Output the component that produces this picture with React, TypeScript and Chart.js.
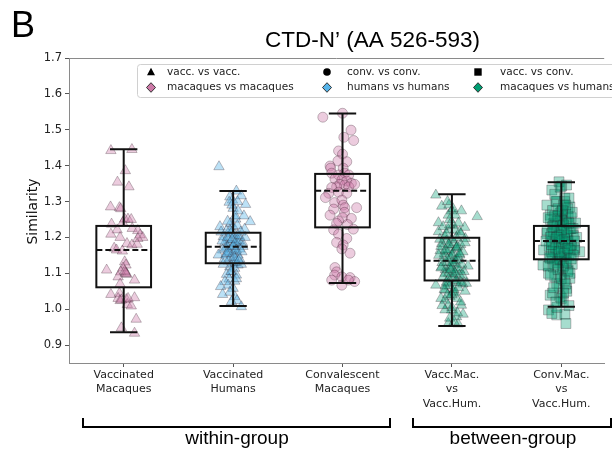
import React, { useEffect, useRef } from 'react';
import { Chart, registerables } from 'chart.js';
Chart.register(...registerables);

// ---------- data ----------
const categories: string[][] = [
  ['Vaccinated', 'Macaques'],
  ['Vaccinated', 'Humans'],
  ['Convalescent', 'Macaques'],
  ['Vacc.Mac.', 'vs', 'Vacc.Hum.'],
  ['Conv.Mac.', 'vs', 'Vacc.Hum.'],
];
const yTickValues = [0.9, 1.0, 1.1, 1.2, 1.3, 1.4, 1.5, 1.6, 1.7];

const whiskerHigh = [1.446, 1.329, 1.545, 1.320, 1.354];
const boxQ3 = [1.232, 1.213, 1.377, 1.199, 1.232];
const boxMid = [1.165, 1.174, 1.330, 1.135, 1.190];
const boxQ1 = [1.061, 1.128, 1.228, 1.080, 1.139];
const whiskerLow = [0.936, 1.009, 1.073, 0.953, 1.007];

// [x jitter, similarity]
const vaccMacaques: number[][] = [
  [-0.117, 1.442], [0.075, 1.445], [0.015, 1.386], [-0.057, 1.354], [0.048, 1.341], [-0.12, 1.285], [-0.039, 1.283],
  [-0.027, 1.28], [0.009, 1.251], [0.039, 1.251], [0.069, 1.25], [-0.111, 1.237], [-0.009, 1.241], [0.078, 1.225],
  [-0.06, 1.221], [0.129, 1.219], [-0.117, 1.209], [0.15, 1.207], [-0.033, 1.2], [0.174, 1.2], [0.129, 1.197],
  [0.03, 1.183], [0.075, 1.179], [0.123, 1.181], [-0.087, 1.17], [-0.066, 1.165], [-0.012, 1.162], [0.009, 1.132],
  [0.021, 1.123], [-0.006, 1.115], [-0.156, 1.109], [-0.027, 1.104], [0.015, 1.101], [0.03, 1.097], [-0.051, 1.09],
  [0.099, 1.081], [-0.033, 1.07], [-0.117, 1.041], [-0.039, 1.044], [-0.051, 1.03], [-0.033, 1.024], [0.024, 1.027],
  [0.099, 1.032], [0.033, 1.013], [0.069, 1.009], [0.114, 0.972], [-0.021, 0.948], [0.099, 0.933], [0.02, 1.099],
  [0.01, 1.106], [-0.02, 1.026], [0.04, 1.03],
];
const vaccHumans: number[][] = [
  [-0.129, 1.397], [0.03, 1.329], [0.075, 1.316], [-0.03, 1.313], [-0.006, 1.304], [-0.036, 1.298], [0.114, 1.292],
  [0, 1.281], [0.045, 1.274], [0.099, 1.26], [0.024, 1.251], [0.156, 1.244], [-0.024, 1.239], [-0.12, 1.23],
  [0, 1.23], [0.039, 1.233], [0.105, 1.223], [-0.06, 1.218], [-0.015, 1.214], [0.015, 1.207], [-0.09, 1.202],
  [0.06, 1.202], [-0.045, 1.195], [-0.006, 1.193], [0.03, 1.19], [-0.075, 1.186], [-0.03, 1.183], [0.045, 1.181],
  [0.084, 1.186], [0.006, 1.177], [-0.054, 1.174], [-0.015, 1.17], [0.06, 1.168], [-0.096, 1.165], [0.024, 1.162],
  [-0.036, 1.158], [0, 1.155], [-0.135, 1.151], [-0.066, 1.151], [0.045, 1.151], [-0.024, 1.144], [0.015, 1.14],
  [-0.045, 1.134], [0, 1.128], [0.045, 1.123], [-0.03, 1.118], [0.015, 1.114], [0.075, 1.125], [-0.015, 1.104],
  [-0.06, 1.097], [0.03, 1.095], [-0.036, 1.084], [-0.075, 1.077], [0.015, 1.078], [-0.045, 1.067], [-0.114, 1.063],
  [0, 1.058], [-0.03, 1.047], [-0.096, 1.041], [0.015, 1.035], [0.036, 1.024], [0.075, 1.007], [-0.015, 1.021],
  [-0.02, 1.21], [0.05, 1.19], [-0.07, 1.17], [0.02, 1.185], [0.09, 1.175], [-0.04, 1.16], [0.03, 1.165],
  [-0.1, 1.19], [0.11, 1.2], [-0.05, 1.2], [0.0, 1.175], [0.06, 1.14], [-0.08, 1.14], [0.02, 1.13], [-0.03, 1.22],
  [0.07, 1.215], [-0.11, 1.215], [0.04, 1.205], [-0.01, 1.195], [0.08, 1.16], [-0.06, 1.155], [0.01, 1.145],
  [-0.09, 1.125], [0.05, 1.135], [-0.02, 1.105], [0.03, 1.085], [-0.05, 1.245], [0.02, 1.26], [-0.01, 1.29], [0.04, 1.3],
];
const convMacaques: number[][] = [
  [0, 1.546], [-0.18, 1.535], [0.078, 1.499], [0.012, 1.479], [0.102, 1.47], [-0.036, 1.441], [0, 1.432],
  [-0.042, 1.413], [0.039, 1.411], [-0.114, 1.399], [-0.108, 1.393], [0.006, 1.393], [-0.099, 1.379], [-0.036, 1.374],
  [0.021, 1.379], [0.057, 1.374], [-0.069, 1.363], [-0.006, 1.36], [0.039, 1.357], [-0.024, 1.348], [0.081, 1.351],
  [0.018, 1.346], [0.057, 1.341], [-0.054, 1.341], [-0.099, 1.339], [0.111, 1.348], [-0.126, 1.323], [-0.036, 1.326],
  [0.039, 1.323], [-0.156, 1.311], [-0.072, 1.297], [-0.006, 1.304], [0.006, 1.29], [0.021, 1.283], [0.129, 1.283],
  [-0.081, 1.279], [0.018, 1.27], [-0.114, 1.262], [0, 1.255], [0.081, 1.253], [-0.036, 1.246], [-0.054, 1.239],
  [0.045, 1.236], [-0.081, 1.221], [0.099, 1.223], [-0.036, 1.209], [0.039, 1.197], [-0.054, 1.186], [0.006, 1.179],
  [-0.006, 1.168], [0.069, 1.156], [-0.069, 1.116], [-0.054, 1.104], [-0.072, 1.095], [-0.006, 1.09], [-0.099, 1.081],
  [0.069, 1.088], [0.111, 1.077], [-0.006, 1.067], [0.054, 1.081],
];
const vmVsVh: number[][] = [
  [-0.147, 1.318], [-0.093, 1.287], [-0.027, 1.29], [-0.003, 1.274], [0.087, 1.274], [0.231, 1.258], [-0.033, 1.262],
  [0.033, 1.262], [-0.123, 1.241], [0.012, 1.234], [0.117, 1.228], [-0.123, 1.216], [-0.033, 1.221], [0.072, 1.216],
  [-0.063, 1.202], [0.123, 1.197], [-0.093, 1.183], [-0.018, 1.179], [0.042, 1.172], [-0.108, 1.163], [-0.039, 1.16],
  [0.012, 1.156], [0.072, 1.151], [-0.078, 1.144], [-0.009, 1.142], [0.051, 1.137], [-0.048, 1.129], [0.021, 1.126],
  [0.147, 1.12], [-0.093, 1.118], [-0.018, 1.114], [0.072, 1.109], [-0.063, 1.1], [0.012, 1.095], [0.102, 1.092],
  [-0.147, 1.067], [-0.033, 1.072], [0.042, 1.074], [0.132, 1.072], [-0.063, 1.053], [0.012, 1.049], [-0.018, 1.035],
  [-0.063, 1.025], [0.042, 1.03], [-0.033, 1.011], [0.087, 1.011], [-0.003, 0.998], [-0.063, 0.998], [0.102, 0.986],
  [0.042, 0.979], [-0.033, 0.96], [0.057, 0.959],
  [-0.05, 1.19], [0.02, 1.185], [0.08, 1.18], [-0.1, 1.175], [0.04, 1.17], [-0.02, 1.165], [0.1, 1.16], [-0.07, 1.155],
  [0.0, 1.15], [0.06, 1.145], [-0.04, 1.14], [0.03, 1.135], [-0.09, 1.13], [0.09, 1.125], [-0.01, 1.12], [0.05, 1.115],
  [-0.06, 1.11], [0.02, 1.105], [-0.03, 1.1], [0.07, 1.095], [-0.08, 1.09], [0.01, 1.085], [0.04, 1.08], [-0.05, 1.075],
  [0.1, 1.07], [-0.02, 1.065], [0.06, 1.06], [-0.07, 1.055], [0.03, 1.045], [-0.04, 1.04], [0.08, 1.02], [-0.09, 1.01],
  [0.0, 1.005], [0.05, 0.99], [-0.02, 0.975], [0.02, 0.965], [-0.05, 1.21], [0.03, 1.22], [-0.08, 1.23], [0.06, 1.24],
  [-0.02, 1.25], [0.01, 1.28], [-0.04, 1.3], [0.0, 1.195], [-0.11, 1.195], [0.12, 1.185], [-0.03, 1.18], [0.05, 1.175],
  [-0.06, 1.165], [0.07, 1.155], [0.0, 1.13], [-0.1, 1.115], [0.11, 1.105], [0.03, 1.1], [-0.03, 1.085], [0.08, 1.075],
  [-0.06, 1.065], [0.02, 1.055], [0.0, 1.04], [-0.1, 1.03], [0.12, 1.05], [0.04, 1.2], [-0.02, 1.235], [0.08, 1.21],
  [-0.12, 1.15], [-0.01, 1.11],
];
const cmVsVh: number[][] = [
  [-0.021, 1.355], [0.048, 1.346], [0.003, 1.343], [-0.087, 1.332], [0.033, 1.309], [-0.132, 1.29], [-0.042, 1.3],
  [0.078, 1.285], [-0.102, 1.262], [-0.012, 1.267], [0.063, 1.258], [-0.072, 1.239], [0.018, 1.234], [0.108, 1.225],
  [-0.132, 1.211], [-0.027, 1.207], [0.048, 1.202], [-0.087, 1.188], [0.003, 1.183], [0.093, 1.179], [0.168, 1.16],
  [-0.162, 1.165], [-0.057, 1.16], [0.033, 1.156], [0.123, 1.165], [-0.102, 1.142], [-0.012, 1.137], [-0.168, 1.123],
  [-0.072, 1.118], [0.063, 1.109], [-0.117, 1.1], [-0.012, 1.095], [0.078, 1.086], [-0.042, 1.072], [0.048, 1.058],
  [-0.102, 1.039], [-0.012, 1.035], [0.018, 1.021], [-0.117, 0.998], [-0.042, 0.984], [0.033, 0.986], [0.042, 0.96],
  [-0.087, 0.988],
  [-0.05, 1.3], [0.02, 1.29], [0.06, 1.28], [-0.08, 1.275], [0.0, 1.27], [0.04, 1.265], [-0.03, 1.26], [0.09, 1.255],
  [-0.1, 1.25], [0.01, 1.245], [0.05, 1.24], [-0.06, 1.235], [-0.01, 1.23], [0.08, 1.225], [-0.04, 1.22], [0.03, 1.215],
  [-0.09, 1.21], [0.11, 1.205], [0.0, 1.2], [-0.05, 1.195], [0.06, 1.19], [-0.02, 1.185], [0.09, 1.18], [-0.11, 1.175],
  [0.02, 1.17], [-0.07, 1.165], [0.05, 1.16], [-0.03, 1.155], [0.07, 1.15], [0.0, 1.145], [-0.08, 1.14], [0.04, 1.135],
  [-0.04, 1.13], [0.1, 1.125], [-0.12, 1.12], [0.01, 1.115], [0.06, 1.105], [-0.06, 1.09], [0.03, 1.08], [-0.02, 1.065],
  [0.05, 1.05], [-0.08, 1.045], [0.0, 1.03], [0.07, 1.01], [-0.04, 1.005],
  [0.13, 1.24], [-0.13, 1.22], [0.12, 1.17], [-0.14, 1.19], [0.14, 1.2], [-0.03, 1.28], [0.03, 1.3], [-0.06, 1.32],
  [0.07, 1.31], [-0.01, 1.34], [0.0, 1.25], [0.02, 1.235], [-0.04, 1.245], [0.06, 1.205], [-0.07, 1.215], [0.01, 1.19],
  [-0.1, 1.2], [0.04, 1.185], [-0.02, 1.175], [0.08, 1.165], [-0.05, 1.17], [0.03, 1.155], [-0.09, 1.16], [0.11, 1.15],
  [-0.01, 1.14], [0.05, 1.13], [-0.06, 1.125], [0.02, 1.12], [-0.03, 1.11], [0.08, 1.1], [-0.1, 1.095], [0.0, 1.085],
  [0.04, 1.07], [-0.07, 1.06], [0.02, 1.045], [-0.05, 1.02], [0.09, 1.225], [-0.12, 1.255], [0.1, 1.27], [-0.02, 1.205],
  [0.05, 1.215], [-0.08, 1.23], [0.0, 1.22], [0.03, 1.195], [-0.04, 1.2], [0.07, 1.24], [-0.06, 1.26], [0.01, 1.275],
  [0.04, 1.29], [-0.09, 1.18], [0.12, 1.19], [-0.11, 1.145], [0.09, 1.14], [-0.02, 1.16], [0.06, 1.17],
];

const groups = [vaccMacaques, vaccHumans, convMacaques, vmVsVh, cmVsVh];
const pointShapes = ['triangle', 'triangle', 'circle', 'triangle', 'rect'];
const pointSizes = [6, 6, 5, 6, 7];
const pinkFill = 'rgba(204,121,167,0.38)';
const blueFill = 'rgba(86,180,233,0.40)';
const greenFill = 'rgba(0,158,115,0.35)';
const groupFills = [pinkFill, blueFill, pinkFill, greenFill, greenFill];

const legendRow1 = ['vacc. vs vacc.', 'conv. vs conv.', 'vacc. vs conv.'];
const legendRow2 = ['macaques vs macaques', 'humans vs humans', 'macaques vs humans'];
const legendDiamondColors = ['#CC79A7', '#56B4E9', '#009E73'];

const BOX_HALF = 0.25;
const CAP_HALF = 0.125;

const decorPlugin = {
  id: 'decor',
  beforeDraw(chart: any) {
    const ctx = chart.ctx;
    ctx.save();
    ctx.fillStyle = '#ffffff';
    ctx.fillRect(0, 0, chart.width, chart.height);
    ctx.restore();
  },
  afterDatasetsDraw(chart: any) {
    const { ctx, chartArea } = chart;
    const x = chart.scales.x;
    const y = chart.scales.y;
    ctx.save();
    ctx.strokeStyle = '#111';
    ctx.lineWidth = 2;
    for (let i = 0; i < categories.length; i++) {
      const cx = x.getPixelForValue(i);
      const l = x.getPixelForValue(i - BOX_HALF);
      const r = x.getPixelForValue(i + BOX_HALF);
      const cl = x.getPixelForValue(i - CAP_HALF);
      const cr = x.getPixelForValue(i + CAP_HALF);
      const q1 = y.getPixelForValue(boxQ1[i]);
      const q3 = y.getPixelForValue(boxQ3[i]);
      const hi = y.getPixelForValue(whiskerHigh[i]);
      const lo = y.getPixelForValue(whiskerLow[i]);
      const md = y.getPixelForValue(boxMid[i]);
      ctx.setLineDash([]);
      ctx.strokeRect(l, q3, r - l, q1 - q3);
      ctx.beginPath();
      ctx.moveTo(cx, q3); ctx.lineTo(cx, hi);
      ctx.moveTo(cx, q1); ctx.lineTo(cx, lo);
      ctx.moveTo(cl, hi); ctx.lineTo(cr, hi);
      ctx.moveTo(cl, lo); ctx.lineTo(cr, lo);
      ctx.stroke();
      ctx.setLineDash([6, 3]);
      ctx.beginPath();
      ctx.moveTo(l, md); ctx.lineTo(r, md);
      ctx.stroke();
    }
    ctx.setLineDash([]);
    // top spine
    ctx.strokeStyle = '#8a8a8a';
    ctx.lineWidth = 1;
    ctx.beginPath();
    ctx.moveTo(chartArea.left, chartArea.top + 0.5);
    ctx.lineTo(chartArea.right, chartArea.top + 0.5);
    ctx.stroke();

    // legend
    ctx.beginPath();
    (ctx as any).roundRect(137.5, 64.5, 560, 33, 3);
    ctx.fillStyle = 'rgba(255,255,255,0.85)';
    ctx.fill();
    ctx.strokeStyle = '#d0d0d0';
    ctx.stroke();
    const markerX = [151, 327, 478];
    const textX = [167, 347, 500];
    const row1 = 72;
    const row2 = 87.5;
    ctx.fillStyle = '#000';
    // triangle
    ctx.beginPath();
    ctx.moveTo(markerX[0], row1 - 4.2);
    ctx.lineTo(markerX[0] + 4, row1 + 3.3);
    ctx.lineTo(markerX[0] - 4, row1 + 3.3);
    ctx.closePath();
    ctx.fill();
    // circle
    ctx.beginPath();
    ctx.arc(markerX[1], row1, 3.8, 0, Math.PI * 2);
    ctx.fill();
    // square
    ctx.fillRect(markerX[2] - 3.7, row1 - 3.7, 7.4, 7.4);
    // diamonds
    for (let k = 0; k < 3; k++) {
      ctx.beginPath();
      ctx.moveTo(markerX[k], row2 - 4.8);
      ctx.lineTo(markerX[k] + 4.5, row2);
      ctx.lineTo(markerX[k], row2 + 4.8);
      ctx.lineTo(markerX[k] - 4.5, row2);
      ctx.closePath();
      ctx.fillStyle = legendDiamondColors[k];
      ctx.fill();
      ctx.strokeStyle = '#222';
      ctx.lineWidth = 0.9;
      ctx.stroke();
    }
    ctx.fillStyle = '#222';
    ctx.font = '10.5px "DejaVu Sans"';
    ctx.textBaseline = 'middle';
    ctx.textAlign = 'left';
    for (let k = 0; k < 3; k++) {
      ctx.fillText(legendRow1[k], textX[k], row1);
      ctx.fillText(legendRow2[k], textX[k], row2);
    }
    ctx.restore();
  },
  afterDraw(chart: any) {
    const { ctx, chartArea } = chart;
    ctx.save();
    // panel letter
    ctx.fillStyle = '#000';
    ctx.font = '36px "Liberation Sans"';
    ctx.textAlign = 'left';
    ctx.textBaseline = 'alphabetic';
    ctx.fillText('B', 11, 37);
    // title
    ctx.font = '22.5px "Liberation Sans"';
    ctx.textAlign = 'center';
    ctx.fillText('CTD-N\u2019 (AA 526-593)', 372.5, 47);
    // y label
    ctx.save();
    ctx.translate(33, (chartArea.top + chartArea.bottom) / 2 + 1);
    ctx.rotate(-Math.PI / 2);
    ctx.font = '14px "DejaVu Sans"';
    ctx.textBaseline = 'middle';
    ctx.fillStyle = '#111';
    ctx.fillText('Similarity', 0, 0);
    ctx.restore();
    // brackets
    ctx.strokeStyle = '#000';
    ctx.lineWidth = 2;
    ctx.beginPath();
    ctx.moveTo(83, 418); ctx.lineTo(83, 427); ctx.lineTo(390, 427); ctx.lineTo(390, 418);
    ctx.moveTo(413, 418); ctx.lineTo(413, 427); ctx.lineTo(611, 427); ctx.lineTo(611, 418);
    ctx.stroke();
    ctx.font = '19px "Liberation Sans"';
    ctx.textAlign = 'center';
    ctx.textBaseline = 'middle';
    ctx.fillText('within-group', 237, 439);
    ctx.fillText('between-group', 513, 439);
    ctx.restore();
  },
};

export default function App() {
  const ref = useRef<HTMLCanvasElement>(null);
  useEffect(() => {
    if (!ref.current) return;
    const datasets = groups.map((g, i) => ({
      label: categories[i].join(' '),
      data: g.map(([dx, v]) => ({ x: i + dx, y: v })),
      pointStyle: pointShapes[i],
      pointRadius: pointSizes[i],
      pointHoverRadius: pointSizes[i],
      backgroundColor: groupFills[i],
      borderColor: 'rgba(40,20,30,0.35)',
      borderWidth: 0.8,
      showLine: false,
    }));
    const chart = new Chart(ref.current, {
      type: 'scatter',
      data: { datasets: datasets as any },
      plugins: [decorPlugin],
      options: {
        animation: false,
        responsive: false,
        maintainAspectRatio: false,
        events: [],
        layout: { padding: { top: 58, left: 0, right: 0, bottom: 0 } },
        plugins: { legend: { display: false }, tooltip: { enabled: false }, title: { display: false } },
        scales: {
          x: {
            type: 'linear',
            min: -0.5,
            max: 4.392,
            grid: { display: true, drawOnChartArea: false, drawTicks: true, tickLength: 4, tickColor: '#555' },
            border: { display: true, color: '#8a8a8a', width: 1 },
            afterBuildTicks: (s: any) => { s.ticks = categories.map((_, i) => ({ value: i })); },
            afterFit: (s: any) => { s.height = 86; },
            ticks: {
              autoSkip: false,
              maxRotation: 0,
              padding: 1,
              color: '#222',
              font: { family: 'DejaVu Sans', size: 11, lineHeight: 1.3 },
              callback: (v: any) => categories[Math.round(Number(v))] as any,
            },
          },
          y: {
            type: 'linear',
            min: 0.85,
            max: 1.7,
            grid: { display: true, drawOnChartArea: false, drawTicks: true, tickLength: 4, tickColor: '#555' },
            border: { display: true, color: '#8a8a8a', width: 1 },
            afterBuildTicks: (s: any) => { s.ticks = yTickValues.map((v) => ({ value: v })); },
            afterFit: (s: any) => { s.width = 69; },
            ticks: {
              padding: 3,
              color: '#222',
              font: { family: 'DejaVu Sans', size: 11.5 },
              callback: (v: any) => Number(v).toFixed(1),
            },
          },
        },
      },
    });
    return () => chart.destroy();
  }, []);
  return (
    <div style={{ position: 'fixed', left: 0, top: 0, width: 612, height: 449, overflow: 'hidden' }}>
      <canvas ref={ref} width={612} height={449} style={{ display: 'block', width: 612, height: 449 }} />
    </div>
  );
}
